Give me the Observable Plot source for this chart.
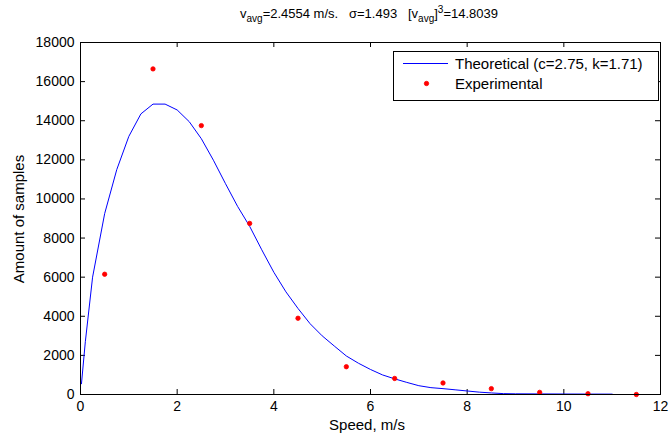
<!DOCTYPE html>
<html>
<head>
<meta charset="utf-8">
<script src="https://cdn.jsdelivr.net/npm/d3@7"></script>
<script src="https://cdn.jsdelivr.net/npm/@observablehq/plot@0.6"></script>
<style>
  html, body { margin: 0; padding: 0; background: #fff; }
  svg { display: block; }
</style>
</head>
<body>
<div id="chart"></div>
<script>
// Experimental (red points)
const expSpeed = [0.5, 1.5, 2.5, 3.5, 4.5, 5.5, 6.5, 7.5, 8.5, 9.5, 10.5, 11.5];
const expCount = [6150, 16650, 13750, 8750, 3900, 1420, 820, 590, 300, 110, 40, 0];

// Theoretical curve (blue line)
const theoSpeed = [0.02, 0.1, 0.25, 0.5, 0.75, 1.0, 1.25, 1.5, 1.75, 2.0, 2.25, 2.5, 2.75, 3.0, 3.25, 3.5, 3.75, 4.0, 4.25, 4.5, 4.75, 5.0, 5.25, 5.5, 5.75, 6.0, 6.25, 6.5, 6.75, 7.0, 7.25, 7.5, 7.75, 8.0, 8.25, 8.5, 8.75, 9.0, 9.5, 10.0, 10.5, 11.0];
const theoCount = [550, 2700, 6000, 9250, 11500, 13200, 14350, 14850, 14850, 14550, 13950, 13080, 11980, 10780, 9620, 8600, 7400, 6250, 5250, 4400, 3620, 3000, 2480, 1970, 1600, 1280, 1000, 800, 620, 450, 350, 300, 240, 180, 120, 80, 45, 35, 30, 25, 22, 20];

const xTicks = [0, 2, 4, 6, 8, 10, 12];
const yTicks = [0, 2000, 4000, 6000, 8000, 10000, 12000, 14000, 16000, 18000];

const titleParts = { v: "v", avg: "avg", speedAvg: "=2.4554 m/s.", sigma: "σ=1.493", cube: "=14.8039" };
const legendLabels = ["Theoretical (c=2.75, k=1.71)", "Experimental"];
const xLabel = "Speed, m/s";
const yLabel = "Amount of samples";

const theo = theoSpeed.map((s, i) => ({ s, c: theoCount[i] }));
const exp = expSpeed.map((s, i) => ({ s, c: expCount[i] }));

const FONT = "Liberation Sans, Arial, sans-serif";
const xMin = 0, xMax = 12, yMin = 0, yMax = 18000;
// inward tick lengths (≈5px) expressed in data units
const tickLenY = 5 * (yMax - yMin) / 352;
const tickLenX = 5 * (xMax - xMin) / 580;

const chart = Plot.plot({
  width: 670,
  height: 434,
  marginLeft: 80,
  marginRight: 10,
  marginTop: 42,
  marginBottom: 40,
  style: { fontFamily: FONT, fontSize: "14px", color: "#000", background: "#fff" },
  x: { domain: [xMin, xMax], ticks: xTicks, label: null },
  y: { domain: [yMin, yMax], ticks: yTicks, label: null },
  marks: [
    Plot.axisX({ ticks: xTicks, anchor: "bottom", tickSize: 0, tickPadding: 7, label: null, fontSize: 14 }),
    Plot.axisY({ ticks: yTicks, anchor: "left", tickSize: 0, tickPadding: 6, tickFormat: d => String(d), label: null, fontSize: 14 }),
    // inward ticks on all four sides
    Plot.ruleX(xTicks, { x: d => d, y1: yMin, y2: yMin + tickLenY, stroke: "#000" }),
    Plot.ruleX(xTicks, { x: d => d, y1: yMax, y2: yMax - tickLenY, stroke: "#000" }),
    Plot.ruleY(yTicks, { y: d => d, x1: xMin, x2: xMin + tickLenX, stroke: "#000" }),
    Plot.ruleY(yTicks, { y: d => d, x1: xMax, x2: xMax - tickLenX, stroke: "#000" }),
    Plot.line(theo, { x: "s", y: "c", stroke: "#0000ff", strokeWidth: 1 }),
    Plot.dot(exp, { x: "s", y: "c", r: 2.2, fill: "#ff0000", stroke: "#ff0000", strokeWidth: 0.8 }),
    Plot.frame({ stroke: "#000", strokeWidth: 1 })
  ]
});

document.getElementById("chart").appendChild(chart);

const svg = d3.select(chart);

// Title
const title = svg.append("text")
  .attr("x", 369).attr("y", 18)
  .attr("text-anchor", "middle")
  .style("font-family", FONT).style("font-size", "13px").attr("fill", "#000");
title.append("tspan").text(titleParts.v);
title.append("tspan").attr("dy", 4).style("font-size", "10px").text(titleParts.avg);
title.append("tspan").attr("dy", -4).text(titleParts.speedAvg + "\u00a0\u00a0\u00a0" + titleParts.sigma + "\u00a0\u00a0\u00a0[" + titleParts.v);
title.append("tspan").attr("dy", 4).style("font-size", "10px").text(titleParts.avg);
title.append("tspan").attr("dy", -4).text("]");
title.append("tspan").attr("dy", -5).style("font-size", "10px").text("3");
title.append("tspan").attr("dy", 5).text(titleParts.cube);

// Axis labels
svg.append("text")
  .attr("x", 367).attr("y", 430)
  .attr("text-anchor", "middle")
  .style("font-family", FONT).style("font-size", "15px").attr("fill", "#000")
  .text(xLabel);
svg.append("text")
  .attr("transform", "translate(24,219) rotate(-90)")
  .attr("text-anchor", "middle")
  .style("font-family", FONT).style("font-size", "15px").attr("fill", "#000")
  .text(yLabel);

// Legend
const lg = svg.append("g").style("font-family", FONT).style("font-size", "15px").attr("text-anchor", "start");
lg.append("rect").attr("x", 393.5).attr("y", 51.5).attr("width", 265).attr("height", 49)
  .attr("fill", "#fff").attr("stroke", "#000");
lg.append("line").attr("x1", 403).attr("x2", 448).attr("y1", 63.5).attr("y2", 63.5)
  .attr("stroke", "#0000ff").attr("stroke-width", 1);
lg.append("text").attr("x", 455).attr("y", 69).attr("fill", "#000").text(legendLabels[0]);
lg.append("circle").attr("cx", 426.5).attr("cy", 83.5).attr("r", 2.2).attr("fill", "#ff0000").attr("stroke", "#ff0000").attr("stroke-width", 0.8);
lg.append("text").attr("x", 455).attr("y", 89).attr("fill", "#000").text(legendLabels[1]);
</script>
</body>
</html>
